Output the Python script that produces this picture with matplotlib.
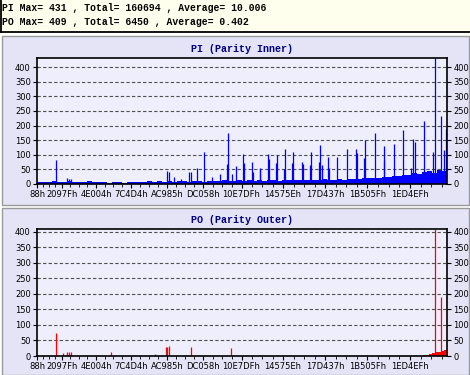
import numpy as np
import matplotlib
matplotlib.use("Agg")
import matplotlib.pyplot as plt
from matplotlib.patches import Rectangle
from matplotlib.lines import Line2D

# summary lines at the top
pi_summary = "PI Max= 431 , Total= 160694 , Average= 10.006"
po_summary = "PO Max= 409 , Total= 6450 , Average= 0.402"

# x axis (LBA, hex labels)
x_ticks = [0x88, 0x2097F, 0x4E004, 0x7C4D4, 0xAC985, 0xDC058,
           0x10E7DF, 0x14575E, 0x17D437, 0x1B505F, 0x1ED4EF]
x_end = 2221000

# PI: noise floor, one value per block of sectors
pi_block = 27085
pi_base = [7, 8, 6, 9, 7, 8, 9, 6, 8, 7, 10, 8, 6, 7, 5, 6, 7, 5, 6, 8, 7, 6, 9,
           8, 9, 7, 10, 8, 9, 11, 8, 9, 10, 8, 11, 9, 10, 12, 9, 11,
           12, 10, 13, 11, 12, 10, 13, 12, 11, 14, 12, 13, 12,
           14, 13, 15, 14, 16, 13, 15, 17, 14, 16, 18, 16, 19,
           20, 22, 19, 24, 23, 26,
           28, 32, 30, 36, 34,
           40, 44, 38, 48, 46]

# PI: spikes (LBA, value)
pi_spike_lba = [102000, 161000, 176000, 186900, 702700, 715200, 742300, 777500,
                823500, 834400, 866900, 905900, 946500, 991400, 1027700, 1033200,
                1053700, 1077000, 1113300, 1121500, 1163700, 1167500, 1205400,
                1209800, 1250400, 1256900, 1293700, 1299100, 1340300, 1343600,
                1383600, 1389100, 1434000, 1439400, 1479000, 1484400, 1529400,
                1533100, 1545600, 1578100, 1583000, 1626900, 1677800, 1726500,
                1732000, 1773100, 1776900, 1831100, 1878200, 1881500, 1934000,
                1984400, 2024500, 2038600, 2047800, 2096500, 2146900, 2154000,
                2190000, 2206500, 2215700]
pi_spike_val = [82, 20, 16, 16, 45, 42, 24, 17,
                41, 40, 55, 108, 24, 34, 68, 176,
                33, 62, 103, 73, 76, 42, 55,
                48, 103, 86, 71, 99, 50, 120,
                71, 111, 76, 68, 66, 111, 74,
                134, 66, 94, 56, 94, 120, 120,
                105, 88, 150, 173, 82, 131, 137,
                185, 54, 154, 145, 216, 111, 431,
                234, 116, 187]

# PO: spikes (LBA, value)
po_spike_lba = [102000, 142600, 161000, 176000, 184300, 402600, 639300,
                698900, 704300, 716800, 832700, 1051000, 1208300,
                2154000, 2190000]
po_spike_val = [75, 9, 12, 14, 13, 12, 6,
                30, 30, 33, 28, 25, 4,
                409, 190]

# PO: raised floor near the end of the disc
po_tail_lba = [2091200, 2107500, 2123700, 2140000, 2156300, 2172600, 2188900, 2205200]
po_tail_val = [3, 4, 8, 10, 14, 13, 17, 20]
po_tail_width = 16300

W, H = 470, 375
fig = plt.figure(figsize=(W / 100, H / 100), dpi=100)
fig.patch.set_facecolor("white")

def fx(px):
    return px / W

def fy(py):
    return 1 - py / H

# background boxes (drawn under the axes)
fig.add_artist(Rectangle((0, fy(31.5)), 1, 31.5 / H, transform=fig.transFigure,
                         facecolor="#ffffee", edgecolor="none", zorder=-2))
fig.add_artist(Line2D([0, 1], [fy(31.5), fy(31.5)], transform=fig.transFigure,
                      color="black", lw=1.3, zorder=-1))
fig.add_artist(Line2D([fx(0.7), fx(0.7)], [fy(31.5), 1], transform=fig.transFigure,
                      color="black", lw=1.3, zorder=-1))
for top, bottom in [(36, 205), (207.5, 375)]:
    fig.add_artist(Rectangle((fx(1.5), fy(bottom)), fx(467), (bottom - top) / H,
                             transform=fig.transFigure, facecolor="#e4e4f6",
                             edgecolor="#9a9a9a", lw=1.0, zorder=-2))

mono = ["Liberation Mono", "DejaVu Sans Mono"]
fig.text(fx(2), fy(8), pi_summary, family=mono, weight="bold", size=7, va="center")
fig.text(fx(2), fy(22), po_summary, family=mono, weight="bold", size=7, va="center")

fig.text(fx(242), fy(49), "PI (Parity Inner)", family=mono, weight="bold",
         size=7.2, color="#000080", ha="center", va="center")
fig.text(fx(242), fy(220), "PO (Parity Outer)", family=mono, weight="bold",
         size=7.2, color="#000080", ha="center", va="center")

ax1 = fig.add_axes([fx(37), fy(184), fx(410), 126 / H])
ax2 = fig.add_axes([fx(37), fy(356), fx(410), 127 / H])

minor = []
for a, b in zip(x_ticks[:-1], x_ticks[1:]):
    minor += [a + (b - a) * k / 4 for k in (1, 2, 3)]
step = x_ticks[-1] - x_ticks[-2]
minor += [x_ticks[-1] + step * k / 4 for k in (1, 2, 3) if x_ticks[-1] + step * k / 4 < x_end]

pi_base_x = x_ticks[0] + pi_block * np.arange(len(pi_base))
ax1.bar(pi_base_x, pi_base, width=pi_block, align="edge", color="#0000ff", lw=0)
ax1.vlines(pi_spike_lba, 0, pi_spike_val, color="#0000ff", lw=0.9)

ax2.bar(po_tail_lba, po_tail_val, width=po_tail_width, align="edge", color="#ff0000", lw=0)
ax2.vlines(po_spike_lba, 0, po_spike_val, color="#ff0000", lw=0.9)

for ax, ymax in [(ax1, 431), (ax2, 409)]:
    ax.set_facecolor("#eeeefc")
    ax.set_xlim(x_ticks[0], x_end)
    ax.set_ylim(0, ymax)
    ax.set_yticks(range(0, 401, 50))
    ax.set_xticks(x_ticks)
    ax.set_xticklabels(["%Xh" % v for v in x_ticks])
    ax.set_xticks(minor, minor=True)
    ax.set_axisbelow(True)
    ax.yaxis.grid(True, linestyle=(0, (3, 2)), color="#505050", lw=0.8)
    ax.tick_params(axis="both", labelsize=6, length=3, width=0.8, pad=1.5,
                   colors="black")
    ax.tick_params(axis="y", right=True, labelright=True)
    ax.tick_params(axis="x", which="minor", length=2, width=0.6)
    for s in ax.spines.values():
        s.set_linewidth(1.2)
        s.set_color("black")

fig.savefig("out.png", dpi=100)
